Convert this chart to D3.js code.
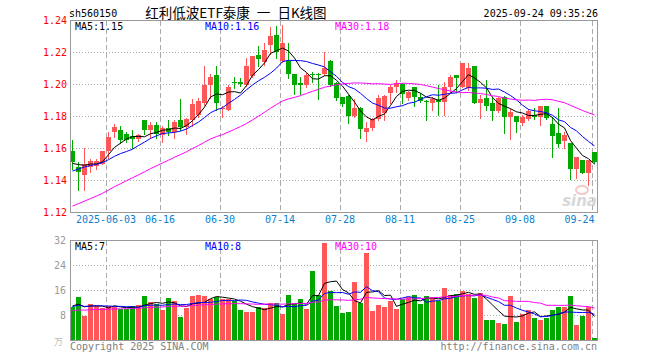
<!DOCTYPE html>
<html><head><meta charset="utf-8">
<script src="https://cdn.jsdelivr.net/npm/d3@7/dist/d3.min.js"></script>
<style>body{margin:0;background:#fff}svg{display:block}</style>
</head><body><svg id="c" width="660" height="360"></svg>
<script>
// ---------- data ----------
const code = "sh560150";
const title = "红利低波ETF泰康 一 日K线图";
const stamp = "2025-09-24 09:35:26";
const dates = ["05-23","05-26","05-27","05-28","05-29","05-30",
 "06-03","06-04","06-05","06-06","06-09","06-10","06-11","06-12","06-13",
 "06-16","06-17","06-18","06-19","06-20","06-23","06-24","06-25","06-26","06-27","06-30",
 "07-01","07-02","07-03","07-04","07-07","07-08","07-09","07-10","07-11",
 "07-14","07-15","07-16","07-17","07-18","07-21","07-22","07-23","07-24","07-25",
 "07-28","07-29","07-30","07-31","08-01","08-04","08-05","08-06","08-07","08-08",
 "08-11","08-12","08-13","08-14","08-15","08-18","08-19","08-20","08-21","08-22",
 "08-25","08-26","08-27","08-28","08-29","09-01","09-02","09-03","09-04","09-05",
 "09-08","09-09","09-10","09-11","09-12","09-15","09-16","09-17","09-18","09-19",
 "09-22","09-23","09-24"];
const opens = [1.158,1.148,1.143,1.148,1.149,1.150,1.158,1.170,1.171,1.169,
 1.1675,1.1655,1.1775,1.1715,1.1745,1.168,1.1725,1.170,1.1775,1.173,
 1.1775,1.1805,1.188,1.1995,1.2055,1.1842,1.184,1.2012,1.2012,1.1995,
 1.205,1.218,1.214,1.2245,1.2305,1.2145,1.2144,1.2063,1.2004,1.1994,
 1.2065,1.206,1.2063,1.2144,1.2008,1.1917,1.1925,1.180,1.1852,1.1698,
 1.1727,1.1779,1.182,1.1946,1.1983,1.200,1.191,1.1983,1.1917,1.1892,
 1.1879,1.190,1.189,1.1983,1.2056,1.1983,1.1973,1.2113,1.1883,1.1915,
 1.1879,1.1833,1.1917,1.1796,1.180,1.1754,1.1779,1.1806,1.1796,1.1863,
 1.175,1.1692,1.1646,1.1629,1.1467,1.1525,1.1446,1.1573];
const highs = [1.165,1.151,1.160,1.153,1.153,1.158,1.170,1.175,1.174,1.170,
 1.171,1.169,1.1775,1.1765,1.176,1.1735,1.1775,1.1775,1.1905,1.1785,
 1.1905,1.191,1.211,1.2065,1.211,1.186,1.1995,1.2045,1.2035,1.2165,
 1.2175,1.2235,1.2255,1.2355,1.236,1.237,1.2254,1.2065,1.2046,1.2067,
 1.2077,1.2067,1.2198,1.215,1.2015,1.192,1.1931,1.1904,1.1854,1.1765,
 1.1785,1.1931,1.1931,1.1994,1.2025,1.2004,1.1958,1.1983,1.1946,1.190,
 1.1917,1.1994,1.2015,1.2056,1.2056,1.2129,1.2129,1.2113,1.1931,1.2025,
 1.1921,1.1921,1.1925,1.1842,1.180,1.1806,1.1842,1.1848,1.1863,1.1863,
 1.1796,1.1848,1.1702,1.1633,1.1546,1.1525,1.1525,1.1573];
const lows = [1.147,1.134,1.134,1.145,1.147,1.150,1.154,1.167,1.163,1.164,
 1.160,1.1645,1.169,1.166,1.166,1.164,1.168,1.166,1.171,1.169,
 1.1735,1.1795,1.187,1.191,1.184,1.1795,1.1835,1.1975,1.1985,1.1985,
 1.2045,1.211,1.212,1.219,1.2165,1.214,1.2035,1.1937,1.1938,1.1979,
 1.2015,1.1906,1.2056,1.199,1.190,1.1863,1.1758,1.1792,1.166,1.1646,
 1.1713,1.1775,1.1775,1.1879,1.1952,1.1879,1.190,1.1863,1.189,1.1775,
 1.1838,1.1806,1.1806,1.1952,1.1952,1.1983,1.1963,1.1879,1.1785,1.1838,
 1.1775,1.1827,1.1692,1.1656,1.1702,1.1744,1.1775,1.1779,1.1744,1.1779,
 1.1546,1.1608,1.1598,1.1404,1.141,1.1442,1.1369,1.1504];
const closes = [1.151,1.145,1.150,1.152,1.152,1.158,1.167,1.173,1.165,1.165,
 1.1655,1.168,1.1715,1.1745,1.169,1.1725,1.170,1.1765,1.173,1.178,
 1.1875,1.1895,1.1995,1.2045,1.188,1.1848,1.198,1.2008,1.2002,1.211,
 1.2175,1.2155,1.2215,1.230,1.2198,1.2255,1.2063,1.1994,1.1994,1.2056,
 1.2056,1.2054,1.2098,1.1994,1.1915,1.1875,1.180,1.1852,1.1717,1.1727,
 1.1779,1.1915,1.1925,1.1983,1.2008,1.1938,1.1952,1.1917,1.1896,1.1888,
 1.1906,1.1885,1.1983,1.2046,1.2035,1.2129,1.2098,1.1883,1.1906,1.1863,
 1.1833,1.191,1.1796,1.1827,1.1765,1.1796,1.1833,1.1796,1.1863,1.1785,
 1.1675,1.1625,1.1681,1.1467,1.1546,1.1446,1.1525,1.1515];
const volumes = [10.5,13.9,7.7,11.5,11.0,10.3,10.9,11.0,9.8,9.8,
 10.9,11.2,14.1,12.3,11.5,9.6,13.5,12.6,7.5,10.3,
 14.1,14.4,14.1,13.1,13.9,13.0,13.0,12.6,9.6,9.1,
 9.1,10.5,10.3,11.9,11.9,8.3,14.4,11.5,13.1,9.9,
 22.2,14.4,31.1,15.7,10.9,8.7,9.1,18.7,11.9,27.9,
 9.4,11.2,10.7,12.6,9.9,13.0,13.9,14.4,11.5,14.1,
 13.3,12.5,16.7,14.4,14.7,15.7,14.7,13.5,15.1,6.4,
 6.4,5.3,5.1,14.1,5.9,8.3,9.6,7.1,6.4,7.1,
 9.6,10.7,10.7,14.1,4.8,7.8,10.5,0.5];
// closes / volumes before the visible window (estimated so the averages start where the picture shows)
const priorCloses = [1.101,1.103,1.104,1.106,1.105,1.107,1.109,1.110,1.108,1.111,
 1.113,1.115,1.114,1.117,1.119,1.118,1.121,1.123,1.125,1.128,
 1.132,1.138,1.142,1.145,1.147,1.149,1.152,1.148,1.152];
const priorVolumes = [8,9,7.5,8.5,10,9,8,9.5,8.5,9,8,10,9,8.5,7.5,9,9.5,8.5,9,9,
 10,11,10.5,10,11,11,12,10,11];
const priceTicks = [1.12,1.14,1.16,1.18,1.20,1.22,1.24];
const volTicks = [8,16,24,32];
const dateTicks = ["06-03","06-16","06-30","07-14","07-28","08-11","08-25","09-08","09-24"];
const dateTickLabels = ["2025-06-03","06-16","06-30","07-14","07-28","08-11","08-25","09-08","09-24"];
const maPeriods = [5,10,30];
const volUnit = "万";
const copyright = "Copyright 2025 SINA.COM";
const site = "http://finance.sina.com.cn";

// ---------- drawing ----------
const svg = d3.select("#c");
const RED = "#ff5757", GREEN = "#00a800", GRID = "#aaaaaa", FRAME = "#999999";
const maColors = ["#000000", "#0000ff", "#ff00ff"];
const mono = "'DejaVu Sans Mono', monospace";
const L = 70, R = 598;
const x = d3.scaleBand().domain(dates).range([L, R]).paddingInner(1/6).paddingOuter(1/12).align(0);
const bw = x.bandwidth();
const y = d3.scaleLinear().domain([1.12, 1.24]).range([212, 20]);
const yv = d3.scaleLinear().domain([0, 32]).range([340, 240]);

function movingAvg(prior, vals, n) {
  const all = prior.concat(vals), off = prior.length;
  return vals.map((_, i) => d3.mean(all.slice(off + i - n + 1, off + i + 1)));
}
const priceMA = maPeriods.map(n => movingAvg(priorCloses, closes, n));
const volMA = maPeriods.map(n => movingAvg(priorVolumes, volumes, n));

// header
svg.append("text").attr("x", 69).attr("y", 17).attr("font-family", mono).attr("font-size", 10).text(code);
svg.append("text").attr("x", 236).attr("y", 18).attr("text-anchor", "middle")
  .attr("font-family", "'Noto Sans CJK SC', sans-serif").attr("font-size", 13.5)
  .style("white-space", "pre").style("word-spacing", "4px").text(title);
svg.append("text").attr("x", 598).attr("y", 17).attr("text-anchor", "end").attr("font-family", mono).attr("font-size", 10).text(stamp);

function panel(top, bottom) {
  const g = svg.append("g");
  g.selectAll("line.v").data(dateTicks).join("line")
    .attr("x1", d => x(d) + 0.5).attr("x2", d => x(d) + 0.5)
    .attr("y1", top).attr("y2", bottom)
    .attr("stroke", GRID).attr("stroke-dasharray", "5,3");
  return g;
}
const gMain = panel(21, 212);
gMain.selectAll("line.h").data(priceTicks.slice(1, -1)).join("line")
  .attr("x1", L).attr("x2", R).attr("y1", d => Math.round(y(d)) + 0.5).attr("y2", d => Math.round(y(d)) + 0.5)
  .attr("stroke", GRID).attr("stroke-dasharray", "1,2");
const gVol = panel(241, 340);
gVol.selectAll("line.h").data(volTicks.slice(0, -1)).join("line")
  .attr("x1", L).attr("x2", R).attr("y1", d => Math.round(yv(d)) + 0.5).attr("y2", d => Math.round(yv(d)) + 0.5)
  .attr("stroke", GRID).attr("stroke-dasharray", "1,2");

svg.append("clipPath").attr("id", "cm").append("rect").attr("x", L).attr("y", 20).attr("width", R - L).attr("height", 192);
svg.append("clipPath").attr("id", "cv").append("rect").attr("x", L).attr("y", 240).attr("width", R - L).attr("height", 100);

// candles
const idx = d3.range(dates.length);
const up = i => closes[i] >= opens[i];
const gc = svg.append("g").attr("clip-path", "url(#cm)");
gc.selectAll("line.w").data(idx).join("line")
  .attr("x1", i => x(dates[i]) + bw / 2).attr("x2", i => x(dates[i]) + bw / 2)
  .attr("y1", i => Math.round(y(highs[i]))).attr("y2", i => Math.round(y(lows[i])) + 1)
  .attr("stroke", i => up(i) ? RED : GREEN).attr("stroke-width", 1);
gc.selectAll("rect").data(idx).join("rect")
  .attr("x", i => x(dates[i])).attr("width", bw)
  .attr("y", i => Math.round(y(Math.max(opens[i], closes[i]))))
  .attr("height", i => Math.max(1, Math.round(y(Math.min(opens[i], closes[i]))) - Math.round(y(Math.max(opens[i], closes[i])))))
  .attr("fill", i => up(i) ? RED : GREEN);

// volume bars
const gb = svg.append("g").attr("clip-path", "url(#cv)");
gb.selectAll("rect").data(idx).join("rect")
  .attr("x", i => x(dates[i])).attr("width", bw)
  .attr("y", i => Math.round(yv(volumes[i]))).attr("height", i => 340 - Math.round(yv(volumes[i])))
  .attr("fill", i => up(i) ? RED : GREEN);

// MA lines
function maLines(g, series, scale) {
  series.forEach((s, k) => {
    g.append("path").datum(s)
      .attr("d", d3.line().x((d, i) => x(dates[i]) + bw / 2).y(d => scale(d)))
      .attr("fill", "none").attr("stroke", maColors[k]).attr("stroke-width", 1);
  });
}
maLines(gc, priceMA, y);
maLines(gb, volMA, yv);

// watermark
const wm = svg.append("g").attr("opacity", 0.9);
wm.append("ellipse").attr("cx", 582).attr("cy", 190).attr("rx", 6).attr("ry", 4).attr("fill", "none").attr("stroke", "#f3c4c4").attr("stroke-width", 2);
wm.append("text").attr("x", 597).attr("y", 206).attr("text-anchor", "end")
  .attr("font-family", "'DejaVu Sans', sans-serif").attr("font-style", "italic").attr("font-weight", "bold")
  .attr("font-size", 15).attr("fill", "#d4d4d4").text("sina");

// frames
[[20, 212], [240, 340]].forEach(([t, b]) => {
  svg.append("rect").attr("x", L + 0.5).attr("y", t + 0.5).attr("width", R - L - 1).attr("height", b - t)
    .attr("fill", "none").attr("stroke", FRAME);
});

// axes
const ax = svg.append("g").attr("transform", `translate(${L},0)`)
  .call(d3.axisLeft(y).tickValues(priceTicks).tickSize(0).tickPadding(3).tickFormat(d3.format(".2f")));
ax.select(".domain").remove();
ax.selectAll("text").attr("font-family", mono).attr("font-size", 10).attr("fill", "#ff0000");

const avx = svg.append("g").attr("transform", `translate(${L},0)`)
  .call(d3.axisLeft(yv).tickValues(volTicks).tickSize(0).tickPadding(4));
avx.select(".domain").remove();
avx.selectAll("text").attr("font-family", mono).attr("font-size", 10).attr("fill", "#999999");

const adx = svg.append("g").attr("transform", `translate(${-bw / 2},213)`)
  .call(d3.axisBottom(x).tickValues(dateTicks).tickSize(0).tickPadding(3)
    .tickFormat((d, i) => dateTickLabels[i]));
adx.select(".domain").remove();
adx.selectAll("text").attr("font-family", mono).attr("font-size", 10).attr("fill", "#0a7fd0");
adx.selectAll(".tick").filter((d, i) => i === dateTicks.length - 1).select("text").attr("text-anchor", "end").attr("x", bw / 2);

svg.append("text").attr("x", 63).attr("y", 345).attr("text-anchor", "end")
  .attr("font-family", "'Noto Sans CJK SC', sans-serif").attr("font-size", 9).attr("fill", "#bbbbbb").text(volUnit);

// MA legends
function legend(yy, series, fmt) {
  const xs = [75, 205, 335];
  series.forEach((s, k) => {
    svg.append("text").attr("x", xs[k]).attr("y", yy).attr("font-family", mono).attr("font-size", 10)
      .attr("fill", maColors[k]).text(`MA${maPeriods[k]}:${fmt(s[s.length - 1])}`);
  });
}
legend(30, priceMA, v => v.toFixed(2));
legend(250, volMA, v => String(Math.floor(v)));

// footer
svg.append("text").attr("x", 70).attr("y", 350).attr("font-family", mono).attr("font-size", 10).attr("fill", "#808080").text(copyright);
svg.append("text").attr("x", 597).attr("y", 350).attr("text-anchor", "end").attr("font-family", mono).attr("font-size", 10).attr("fill", "#808080").text(site);
</script></body></html>
